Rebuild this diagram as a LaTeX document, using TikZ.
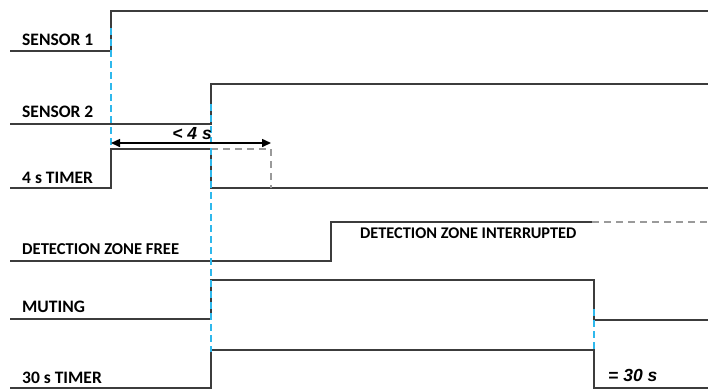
\documentclass[tikz,border=0pt]{standalone}
\usepackage{fontspec}
\setmainfont{Carlito}
\newfontfamily\arialfont{Liberation Sans}
\usetikzlibrary{arrows.meta}
\definecolor{trace}{HTML}{3C3C3C}
\definecolor{marker}{HTML}{2EB8EC}
\definecolor{ghost}{HTML}{9A9A9A}
\tikzset{
  sig/.style={draw=trace, line width=1.5bp},
  ghostline/.style={draw=ghost, line width=1.2bp, dash pattern=on 7bp off 5bp},
  markline/.style={draw=marker, line width=1.4bp, dash pattern=on 7bp off 4bp},
  lbl/.style={anchor=base west, inner sep=0pt, font=\fontsize{17.5bp}{20bp}\selectfont\bfseries},
  time/.style={inner sep=0pt, font=\arialfont\bfseries\itshape\fontsize{17.5bp}{19bp}\selectfont},
}
\begin{document}
\begin{tikzpicture}[x=1bp,y=-1bp]
\useasboundingbox (0,0) rectangle (708,390);
% signal traces
\draw[sig] (10,51) -- (111,51) -- (111,11) -- (708,11);
\draw[sig] (10,124) -- (211,124) -- (211,84) -- (708,84);
\draw[sig] (10,188) -- (111,188) -- (111,149) -- (211,149) -- (211,188) -- (708,188);
\draw[ghostline] (211,149) -- (271,149) -- (271,188);
\draw[sig] (10,261) -- (331,261) -- (331,222) -- (592,222);
\draw[ghostline] (592,222) -- (708,222);
\draw[sig] (10,319) -- (211,319) -- (211,280) -- (594,280) -- (594,320) -- (708,320);
\draw[sig] (10,388) -- (211,388) -- (211,350) -- (594,350) -- (594,388) -- (708,388);
% markers
\draw[markline] (111,28) -- (111,149);
\draw[markline] (211,104) -- (211,352);
\draw[markline] (594,309) -- (594,350);
% measurement arrow
\coordinate (ma) at (111,143);
\coordinate (mb) at (271,143);
\draw[draw=black, line width=1.5bp, {Triangle[length=9bp,width=8bp]}-{Triangle[length=9bp,width=8bp]}] (ma) -- (mb);
\node[time, anchor=base east] (t4) at (212,139) {< 4 s};
% labels
\node[lbl] (s1) at (22,45) {SENSOR 1};
\node[lbl] (s2) at (22,117) {SENSOR 2};
\node[lbl] (tm4) at (22,183) {4 s TIMER};
\node[lbl, font=\fontsize{16.6bp}{18bp}\selectfont\bfseries] (dzf) at (22,254) {DETECTION ZONE FREE};
\node[lbl] (mut) at (22,312) {MUTING};
\node[lbl] (tm30) at (22,383) {30 s TIMER};
\node[lbl, font=\fontsize{16.3bp}{18bp}\selectfont\bfseries] (dzi) at (360,238) {DETECTION ZONE INTERRUPTED};
\node[time, anchor=base west] (t30) at (608,381) {= 30 s};
\end{tikzpicture}
\end{document}
